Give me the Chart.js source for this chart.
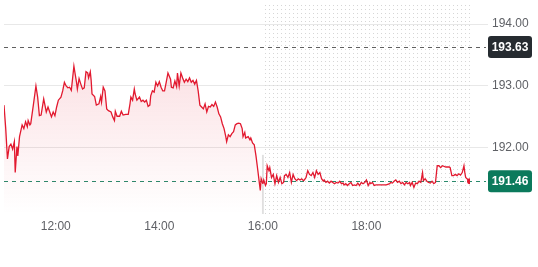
<!DOCTYPE html>
<html>
<head>
<meta charset="utf-8">
<script src="https://cdn.jsdelivr.net/npm/chart.js@4/dist/chart.umd.min.js"></script>
<style>
  html, body { margin: 0; padding: 0; background: #ffffff; }
  #wrap { width: 538px; height: 267px; }
</style>
</head>
<body>
<div id="wrap"><canvas id="c" width="538" height="267"></canvas></div>
<script>
// ---- Data ----
const regTimes = ['11:00','11:02','11:04','11:06','11:08','11:10','11:12','11:13','11:15','11:16','11:18','11:21','11:23','11:25','11:27','11:28','11:30','11:31','11:34','11:37','11:39','11:41','11:43','11:46','11:49','11:51','11:53','11:55','11:57','11:59','12:01','12:03','12:06','12:08','12:10','12:12','12:14','12:16','12:18','12:21','12:24','12:25','12:27','12:29','12:31','12:33','12:35','12:37','12:38','12:40','12:41','12:42','12:45','12:47','12:50','12:52','12:53','12:55','12:57','12:59','13:01','13:04','13:06','13:08','13:09','13:11','13:14','13:16','13:18','13:21','13:24','13:26','13:27','13:29','13:31','13:32','13:34','13:37','13:39','13:41','13:43','13:45','13:47','13:49','13:50','13:52','13:54','13:56','13:58','14:00','14:02','14:04','14:06','14:08','14:10','14:13','14:14','14:16','14:18','14:20','14:21','14:23','14:25','14:27','14:29','14:31','14:33','14:35','14:37','14:39','14:41','14:43','14:45','14:47','14:49','14:51','14:53','14:55','14:57','14:59','15:01','15:03','15:05','15:07','15:09','15:11','15:13','15:15','15:17','15:18','15:20','15:22','15:24','15:26','15:28','15:30','15:32','15:34','15:36','15:37','15:39','15:40','15:43','15:45','15:46','15:48','15:50','15:52','15:54','15:56','15:57','15:58','16:00'];
const regPrices = [192.69,192.31,191.82,192.02,192.06,191.98,192.10,191.60,192.02,191.87,192.18,192.37,192.31,192.42,192.34,192.44,192.37,192.39,192.69,193.00,192.82,192.52,192.53,192.79,192.58,192.66,192.58,192.50,192.58,192.52,192.66,192.77,192.82,192.92,193.06,193.00,192.97,192.98,192.93,193.32,193.06,192.95,193.12,193.03,192.95,192.97,193.23,193.21,193.13,193.23,193.09,192.87,192.83,192.69,192.71,192.83,192.74,192.98,192.92,192.63,192.60,192.58,192.50,192.44,192.59,192.51,192.51,192.59,192.53,192.54,192.54,192.71,192.82,192.77,192.95,192.87,192.77,192.82,192.75,192.77,192.74,192.77,192.67,192.69,192.84,192.92,192.90,193.06,193.00,193.07,192.98,192.92,192.92,193.06,193.21,193.11,192.98,192.97,193.08,192.99,193.21,193.00,193.21,193.13,193.06,193.11,193.07,193.13,193.06,193.09,193.03,193.09,192.92,192.69,192.66,192.63,192.71,192.58,192.67,192.66,192.70,192.67,192.74,192.66,192.55,192.50,192.39,192.31,192.18,192.10,192.21,192.18,192.23,192.26,192.37,192.39,192.40,192.39,192.31,192.18,192.25,192.16,192.18,192.13,192.16,192.08,192.05,191.87,191.65,191.42,191.31,191.50,191.42];
const extTimes = ['16:00','16:01','16:03','16:04','16:05','16:07','16:08','16:10','16:12','16:14','16:16','16:18','16:20','16:22','16:24','16:25','16:27','16:29','16:31','16:33','16:35','16:37','16:39','16:41','16:43','16:45','16:47','16:48','16:50','16:52','16:54','16:56','16:58','17:00','17:02','17:04','17:06','17:08','17:10','17:11','17:13','17:15','17:17','17:19','17:21','17:23','17:25','17:27','17:29','17:31','17:33','17:34','17:36','17:38','17:40','17:42','17:44','17:46','17:48','17:50','17:52','17:54','17:56','17:58','18:00','18:02','18:04','18:05','18:07','18:09','18:11','18:15','18:19','18:23','18:27','18:28','18:30','18:32','18:34','18:36','18:38','18:40','18:42','18:44','18:46','18:48','18:50','18:51','18:53','18:55','18:57','18:59','19:01','19:03','19:05','19:06','19:08','19:10','19:12','19:14','19:16','19:18','19:20','19:22','19:24','19:26','19:28','19:32','19:36','19:37','19:39','19:41','19:43','19:45','19:47','19:49','19:51','19:53','19:54','19:55','19:58','20:00'];
const extPrices = [191.42,191.48,191.39,191.42,191.71,191.63,191.68,191.52,191.57,191.42,191.55,191.44,191.52,191.42,191.44,191.55,191.57,191.52,191.60,191.44,191.57,191.50,191.47,191.50,191.48,191.50,191.47,191.48,191.52,191.63,191.57,191.55,191.60,191.52,191.63,191.57,191.60,191.50,191.46,191.48,191.44,191.46,191.43,191.46,191.44,191.42,191.44,191.43,191.46,191.42,191.43,191.40,191.42,191.39,191.42,191.44,191.39,191.40,191.39,191.43,191.39,191.44,191.42,191.44,191.48,191.39,191.44,191.42,191.44,191.39,191.40,191.40,191.40,191.40,191.42,191.44,191.43,191.46,191.48,191.44,191.46,191.42,191.44,191.40,191.44,191.42,191.44,191.39,191.44,191.36,191.43,191.42,191.46,191.44,191.60,191.47,191.50,191.46,191.44,191.43,191.46,191.42,191.44,191.71,191.71,191.68,191.71,191.69,191.69,191.68,191.55,191.55,191.57,191.55,191.58,191.56,191.60,191.71,191.60,191.52,191.48,191.46];
const volTimes = ['16:00'];
const volValues = [28];
const xTickLabels = ['12:00','14:00','16:00','18:00'];
const yTickValues = [192, 193, 194];
const prevClose = 193.63;
const lastPrice = 191.46;
const sessionStart = '11:00';
const sessionClose = '16:00';
const sessionEnd = '20:00';

// ---- helpers ----
const toMin = s => { const p = s.split(':').map(Number); return p[0] * 60 + p[1]; };
const fmt = v => String(Math.floor(v / 60)).padStart(2, '0') + ':' + String(v % 60).padStart(2, '0');
const pts = (t, v) => t.map((s, i) => ({ x: toMin(s), y: v[i] }));

const RED = '#e2192f';
const FONT = "'Liberation Sans', Arial, sans-serif";

const bgPlugin = {
  id: 'bg',
  beforeDatasetsDraw(chart) {
    const { ctx, chartArea: a, scales: { x, y } } = chart;
    ctx.save();
    // dotted extended-hours area
    const x0 = x.getPixelForValue(toMin(sessionClose));
    ctx.fillStyle = '#d6d6d6';
    for (let px = Math.round(x0) + 2; px <= a.right; px += 4) {
      for (let py = a.top + 1; py <= a.bottom - 1; py += 4) {
        ctx.fillRect(px, py, 1, 1);
      }
    }
    // dashed reference lines
    ctx.lineWidth = 1;
    ctx.setLineDash([4, 4]);
    [[prevClose, '#606060'], [lastPrice, '#2a8a6c']].forEach(([v, c]) => {
      const py = Math.round(y.getPixelForValue(v)) + 0.5;
      ctx.strokeStyle = c;
      ctx.beginPath();
      ctx.moveTo(a.left, py);
      ctx.lineTo(a.right + 16, py);
      ctx.stroke();
    });
    ctx.restore();
  },
  afterDraw(chart) {
    const { ctx, chartArea: a, scales: { y } } = chart;
    ctx.save();
    [[prevClose, '#262b30'], [lastPrice, '#0b7a5c']].forEach(([v, c]) => {
      const py = y.getPixelForValue(v);
      const bx = a.right + 18, bw = 44, bh = 22;
      ctx.fillStyle = c;
      ctx.beginPath();
      ctx.roundRect(bx, py - bh / 2, bw, bh, 3);
      ctx.fill();
      ctx.fillStyle = '#ffffff';
      ctx.font = 'bold 12px ' + FONT;
      ctx.textAlign = 'center';
      ctx.textBaseline = 'middle';
      ctx.fillText(v.toFixed(2), bx + bw / 2, py + 0.5);
    });
    ctx.restore();
  }
};

const ctx = document.getElementById('c').getContext('2d');
new Chart(ctx, {
  data: {
    datasets: [
      {
        type: 'line',
        data: pts(regTimes, regPrices),
        borderColor: RED,
        borderWidth: 1.3,
        pointRadius: 0,
        tension: 0,
        fill: 'start',
        backgroundColor: (c) => {
          const a = c.chart.chartArea;
          if (!a) return 'rgba(226,25,47,0.1)';
          const g = c.chart.ctx.createLinearGradient(0, a.top + 60, 0, a.bottom);
          g.addColorStop(0, 'rgba(226,25,47,0.13)');
          g.addColorStop(1, 'rgba(226,25,47,0.0)');
          return g;
        },
        order: 1
      },
      {
        type: 'line',
        data: pts(extTimes, extPrices),
        borderColor: RED,
        borderWidth: 1.3,
        pointRadius: (c) => c.dataIndex === extTimes.length - 1 ? 3 : 0,
        pointBackgroundColor: RED,
        pointBorderWidth: 0,
        tension: 0,
        fill: false,
        order: 0
      },
      {
        type: 'bar',
        data: pts(volTimes, volValues),
        yAxisID: 'yVol',
        backgroundColor: '#e0e0e0',
        barThickness: 1.2,
        order: 2
      }
    ]
  },
  options: {
    responsive: false,
    animation: false,
    devicePixelRatio: 1,
    layout: { padding: 0 },
    plugins: { legend: { display: false }, tooltip: { enabled: false } },
    scales: {
      x: {
        type: 'linear',
        offset: false,
        min: toMin(sessionStart),
        max: toMin(sessionEnd),
        grid: { display: false, drawTicks: false, offset: false },
        border: { display: false },
        afterBuildTicks: (s) => { s.ticks = xTickLabels.map(t => ({ value: toMin(t) })); },
        afterFit: (s) => { s.height = 53; s.paddingLeft = 0; s.paddingRight = 0; },
        ticks: {
          autoSkip: false,
          maxRotation: 0,
          padding: 5,
          color: '#5f6166',
          font: { size: 12, family: FONT },
          callback: (v) => fmt(v)
        }
      },
      y: {
        type: 'linear',
        position: 'right',
        min: 190.93,
        max: 194.325,
        border: { display: false },
        grid: { color: '#e8e8e8', lineWidth: 1, drawTicks: true, tickLength: 18 },
        afterBuildTicks: (s) => { s.ticks = yTickValues.map(v => ({ value: v })); },
        afterFit: (s) => { s.width = 68; s.paddingTop = 0; s.paddingBottom = 0; },
        ticks: {
          padding: 4,
          color: '#5f6166',
          font: { size: 12, family: FONT },
          callback: (v) => Number(v).toFixed(2)
        }
      },
      yVol: {
        type: 'linear',
        display: false,
        min: 0,
        max: 100
      }
    }
  },
  plugins: [bgPlugin]
});
</script>
</body>
</html>
